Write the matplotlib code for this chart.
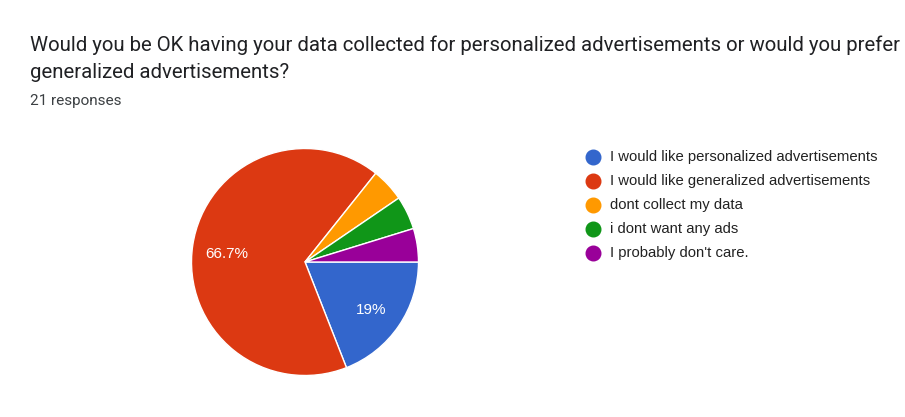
import matplotlib
matplotlib.use("Agg")
import matplotlib.pyplot as plt
from matplotlib.lines import Line2D

categories = ["I would like personalized advertisements",
              "I would like generalized advertisements",
              "dont collect my data",
              "i dont want any ads",
              "I probably don't care."]
counts = [4, 14, 1, 1, 1]
colors = ["#3366CC", "#DC3912", "#FF9900", "#109618", "#990099"]
title_lines = ["Would you be OK having your data collected for personalized advertisements or would you prefer",
               "generalized advertisements?"]
subtitle = "21 responses"

plt.rcParams['font.family'] = ['Roboto', 'DejaVu Sans']
ARIAL = ['Liberation Sans', 'DejaVu Sans']

W, H = 905, 417
fig = plt.figure(figsize=(W/100, H/100), dpi=100)
fig.patch.set_facecolor("white")

def fx(px): return px / W
def fy(py): return 1 - py / H

fig.text(fx(30), fy(45), title_lines[0], fontsize=14.65, color="#202124", va="center", ha="left")
fig.text(fx(30), fy(73), title_lines[1], fontsize=14.65, color="#202124", va="center", ha="left")
fig.text(fx(30), fy(101), subtitle, fontsize=11, color="#3c4043", va="center", ha="left")

cx, cy, r = 305, 262, 113.5
ax = fig.add_axes([fx(cx - r), fy(cy + r), (2*r)/W, (2*r)/H])

def fmt(p):
    return f"{p:.3g}%" if p > 8 else ""

wedges, texts, autotexts = ax.pie(counts, colors=colors, startangle=0, counterclock=False,
                                  autopct=fmt, pctdistance=0.7,
                                  wedgeprops=dict(edgecolor="white", linewidth=1),
                                  textprops=dict(color="white", fontsize=11, family=ARIAL))
for t in autotexts:
    x, y = t.get_position()
    t.set_position((x, y - 0.03))
ax.set_xlim(-1.0, 1.0)
ax.set_ylim(-1.0, 1.0)
ax.axis("off")

ys = [157, 181, 205, 229, 253]
for lab, col, y in zip(categories, colors, ys):
    fig.add_artist(Line2D([fx(593)], [fy(y)], marker="o", markersize=10.5, color=col,
                          linestyle="none", transform=fig.transFigure))
    fig.text(fx(610), fy(y), lab, fontsize=10.7, color="#222222", va="center", ha="left",
             family=ARIAL)

fig.savefig("out.png", dpi=100, facecolor="white")
